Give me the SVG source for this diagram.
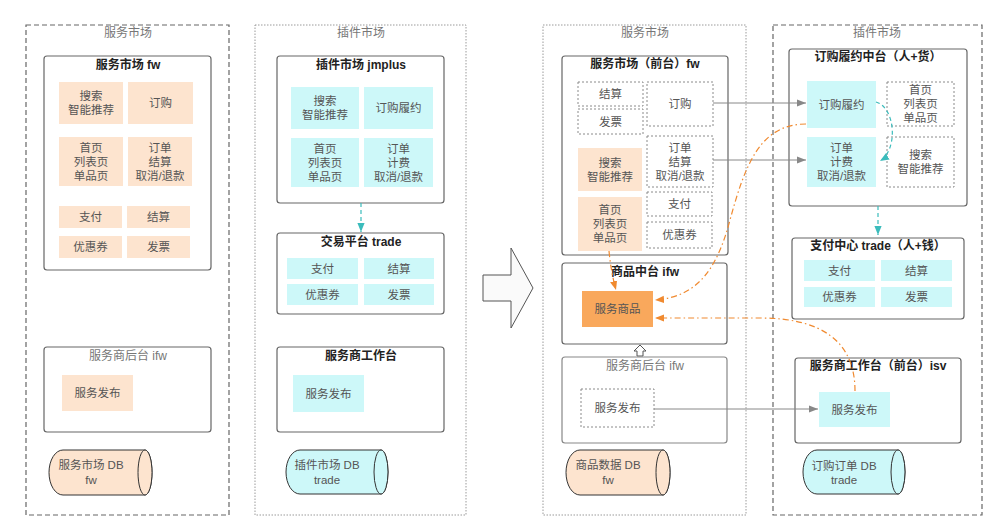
<svg xmlns="http://www.w3.org/2000/svg" width="1000" height="532" viewBox="0 0 1000 532">
<defs>
<style>
text{font-family:'Liberation Sans','Noto Sans CJK SC',sans-serif;text-anchor:middle;dominant-baseline:central}
.od{fill:none;stroke:#666;stroke-width:1.2;stroke-dasharray:5 3}
.op{fill:none;stroke:#9a9a9a;stroke-width:1;stroke-dasharray:1.5 1.5}
.box{fill:#fff;stroke:#666;stroke-width:1.2}
.peach{fill:#fde4cf}
.cyan{fill:#cdf8f9}
.dot{fill:#fff;stroke:#8a8a8a;stroke-width:1;stroke-dasharray:2 2}
.orange{fill:#f9a85c}
.t{font-size:11.5px;fill:#555}
.h{font-size:12px;font-weight:bold;fill:#222}
.g{font-size:12px;fill:#777}
.cylp{fill:#fde4cf;stroke:#333;stroke-width:1}
.cylc{fill:#cdf8f9;stroke:#333;stroke-width:1}
.gl{fill:none;stroke:#888;stroke-width:1}
.ol{fill:none;stroke:#f08a30;stroke-width:1.2;stroke-dasharray:6 3 1.5 3}
.tl{fill:none;stroke:#3bbcbc;stroke-width:1.2;stroke-dasharray:4 3}
</style>
<marker id="ag" viewBox="0 0 10 10" refX="10" refY="5" markerWidth="9" markerHeight="9" markerUnits="userSpaceOnUse" orient="auto"><path d="M0,1 L10,5 L0,9 Z" fill="#888"/></marker>
<marker id="ao" viewBox="0 0 10 10" refX="10" refY="5" markerWidth="9" markerHeight="9" markerUnits="userSpaceOnUse" orient="auto"><path d="M0,1 L10,5 L0,9 Z" fill="#f08a30"/></marker>
<marker id="at" viewBox="0 0 10 10" refX="10" refY="5" markerWidth="9" markerHeight="9" markerUnits="userSpaceOnUse" orient="auto"><path d="M0,1 L10,5 L0,9 Z" fill="#3bbcbc"/></marker>
</defs>
<rect width="1000" height="532" fill="#fff"/>

<g id="col1">
<rect class="od" x="26" y="25" width="203" height="490"/>
<text class="g" x="128" y="33">服务市场</text>
<g id="fw1">
<rect class="box" x="44" y="56" width="167" height="214" rx="3"/>
<text class="h" x="128" y="65">服务市场 fw</text>
<rect class="peach" x="59" y="82" width="64" height="42"/>
<text class="t" x="91" y="103"><tspan x="91" dy="-7">搜索</tspan><tspan x="91" dy="14">智能推荐</tspan></text>
<rect class="peach" x="128" y="82" width="65" height="42"/>
<text class="t" x="160.5" y="103">订购</text>
<rect class="peach" x="59" y="137" width="64" height="49"/>
<text class="t" x="91" y="161.5"><tspan x="91" dy="-14">首页</tspan><tspan x="91" dy="14">列表页</tspan><tspan x="91" dy="14">单品页</tspan></text>
<rect class="peach" x="128" y="137" width="64" height="49"/>
<text class="t" x="160" y="161.5"><tspan x="160" dy="-14">订单</tspan><tspan x="160" dy="14">结算</tspan><tspan x="160" dy="14">取消/退款</tspan></text>
<rect class="peach" x="59" y="206" width="63" height="22"/>
<text class="t" x="90.5" y="217">支付</text>
<rect class="peach" x="127" y="206" width="63" height="22"/>
<text class="t" x="158.5" y="217">结算</text>
<rect class="peach" x="59" y="236" width="63" height="22"/>
<text class="t" x="90.5" y="247">优惠券</text>
<rect class="peach" x="127" y="236" width="63" height="22"/>
<text class="t" x="158.5" y="247">发票</text>
</g>
<g id="ifw1">
<rect class="box" x="44" y="347" width="167" height="85" rx="3"/>
<text class="g" x="128" y="356">服务商后台 ifw</text>
<rect class="peach" x="62" y="375" width="71" height="36"/>
<text class="t" x="97.5" y="393">服务发布</text>
</g>
<g id="db1">
<path class="cylp" d="M63,450 L145,450 A7,22.5 0 0 1 145,495 L63,495 A14,22.5 0 0 1 63,450 Z"/>
<ellipse class="cylp" cx="145" cy="472.5" rx="7" ry="22.5"/>
<text class="t" x="91" y="465">服务市场 DB</text>
<text class="t" x="91" y="480">fw</text>
</g>
</g>

<g id="col2">
<rect class="op" x="255" y="25" width="211" height="490"/>
<text class="g" x="361" y="33">插件市场</text>
<g id="jmplus">
<rect class="box" x="277" y="56" width="167" height="147" rx="3"/>
<text class="h" x="361" y="65">插件市场 jmplus</text>
<rect class="cyan" x="291" y="87" width="68" height="42"/>
<text class="t" x="325" y="108"><tspan x="325" dy="-7">搜索</tspan><tspan x="325" dy="14">智能推荐</tspan></text>
<rect class="cyan" x="364" y="87" width="69" height="42"/>
<text class="t" x="398.5" y="108">订购履约</text>
<rect class="cyan" x="291" y="138" width="68" height="49"/>
<text class="t" x="325" y="162.5"><tspan x="325" dy="-14">首页</tspan><tspan x="325" dy="14">列表页</tspan><tspan x="325" dy="14">单品页</tspan></text>
<rect class="cyan" x="364" y="138" width="69" height="49"/>
<text class="t" x="398.5" y="162.5"><tspan x="398.5" dy="-14">订单</tspan><tspan x="398.5" dy="14">计费</tspan><tspan x="398.5" dy="14">取消/退款</tspan></text>
</g>
<g id="trade2">
<rect class="box" x="277" y="233" width="167" height="81" rx="3"/>
<text class="h" x="361" y="242">交易平台 trade</text>
<rect class="cyan" x="287" y="258" width="71" height="21"/>
<text class="t" x="322.5" y="268.5">支付</text>
<rect class="cyan" x="364" y="258" width="70" height="21"/>
<text class="t" x="399" y="268.5">结算</text>
<rect class="cyan" x="287" y="284" width="71" height="21"/>
<text class="t" x="322.5" y="294.5">优惠券</text>
<rect class="cyan" x="364" y="284" width="70" height="21"/>
<text class="t" x="399" y="294.5">发票</text>
</g>
<g id="isv2">
<rect class="box" x="277" y="347" width="167" height="85" rx="3"/>
<text class="h" x="361" y="356">服务商工作台</text>
<rect class="cyan" x="293" y="375" width="71" height="37"/>
<text class="t" x="328.5" y="393.5">服务发布</text>
</g>
<g id="db2">
<path class="cylc" d="M300,450 L381,450 A7,22 0 0 1 381,494 L300,494 A14,22 0 0 1 300,450 Z"/>
<ellipse class="cylc" cx="381" cy="472" rx="7" ry="22"/>
<text class="t" x="327" y="465">插件市场 DB</text>
<text class="t" x="327" y="480">trade</text>
</g>
</g>

<g id="bigarrow">
<polygon points="483,275 511,275 511,248 533,288 511,328 511,301 483,301" fill="#fafafa" stroke="#555" stroke-width="1"/>
</g>

<g id="col3">
<rect class="op" x="543" y="25" width="203" height="490"/>
<text class="g" x="645" y="33">服务市场</text>
<g id="fw3">
<rect class="box" x="562" y="56" width="166" height="199" rx="3"/>
<text class="h" x="645" y="64">服务市场（前台）fw</text>
<rect class="dot" x="578" y="82" width="65" height="24"/>
<text class="t" x="610.5" y="94">结算</text>
<rect class="dot" x="578" y="109" width="65" height="25"/>
<text class="t" x="610.5" y="121.5">发票</text>
<rect class="dot" x="647" y="82" width="66" height="44"/>
<text class="t" x="680" y="104">订购</text>
<rect class="peach" x="578" y="148" width="64" height="43"/>
<text class="t" x="610" y="169.5"><tspan x="610" dy="-7">搜索</tspan><tspan x="610" dy="14">智能推荐</tspan></text>
<rect class="dot" x="647" y="136" width="66" height="51"/>
<text class="t" x="680" y="161.5"><tspan x="680" dy="-14">订单</tspan><tspan x="680" dy="14">结算</tspan><tspan x="680" dy="14">取消/退款</tspan></text>
<rect class="peach" x="578" y="197" width="64" height="54"/>
<text class="t" x="610" y="224"><tspan x="610" dy="-14">首页</tspan><tspan x="610" dy="14">列表页</tspan><tspan x="610" dy="14">单品页</tspan></text>
<rect class="dot" x="647" y="192" width="65" height="24"/>
<text class="t" x="679.5" y="204">支付</text>
<rect class="dot" x="647" y="222" width="65" height="26"/>
<text class="t" x="679.5" y="235">优惠券</text>
</g>
<g id="goods3">
<rect class="box" x="562" y="263" width="165" height="81" rx="3"/>
<text class="h" x="645" y="272">商品中台 ifw</text>
<rect class="orange" x="582" y="291" width="71" height="36"/>
<text class="t" x="617.5" y="309">服务商品</text>
</g>
<g id="uparrow">
<polygon points="640,345 646,351 643,351 643,356 637,356 637,351 634,351" fill="#fff" stroke="#555" stroke-width="1"/>
</g>
<g id="ifw3">
<rect class="box" x="562" y="357" width="165" height="86" rx="3" style="stroke:#888"/>
<text class="g" x="645" y="366">服务商后台 ifw</text>
<rect class="dot" x="581" y="389" width="73" height="38"/>
<text class="t" x="617.5" y="408">服务发布</text>
</g>
<g id="db3">
<path class="cylp" d="M580,450 L663,450 A7,22.5 0 0 1 663,495 L580,495 A14,22.5 0 0 1 580,450 Z"/>
<ellipse class="cylp" cx="663" cy="472.5" rx="7" ry="22.5"/>
<text class="t" x="608" y="465">商品数据 DB</text>
<text class="t" x="608" y="480">fw</text>
</g>
</g>

<g id="col4">
<rect class="od" x="773" y="25" width="209" height="490"/>
<text class="g" x="877" y="33">插件市场</text>
<g id="order4">
<rect class="box" x="789" y="49" width="178" height="157" rx="3"/>
<text class="h" x="878" y="57">订购履约中台（人+货）</text>
<rect class="cyan" x="807" y="81" width="69" height="47"/>
<text class="t" x="841.5" y="104.5">订购履约</text>
<rect class="dot" x="887" y="82" width="67" height="44"/>
<text class="t" x="920.5" y="104"><tspan x="920.5" dy="-14">首页</tspan><tspan x="920.5" dy="14">列表页</tspan><tspan x="920.5" dy="14">单品页</tspan></text>
<rect class="cyan" x="807" y="137" width="69" height="50"/>
<text class="t" x="841.5" y="162"><tspan x="841.5" dy="-14">订单</tspan><tspan x="841.5" dy="14">计费</tspan><tspan x="841.5" dy="14">取消/退款</tspan></text>
<rect class="dot" x="887" y="137" width="67" height="50"/>
<text class="t" x="920.5" y="162"><tspan x="920.5" dy="-7">搜索</tspan><tspan x="920.5" dy="14">智能推荐</tspan></text>
</g>
<g id="pay4">
<rect class="box" x="792" y="238" width="172" height="81" rx="3"/>
<text class="h" x="878" y="246">支付中心 trade（人+钱）</text>
<rect class="cyan" x="804" y="260" width="71" height="21"/>
<text class="t" x="839.5" y="270.5">支付</text>
<rect class="cyan" x="881" y="260" width="71" height="21"/>
<text class="t" x="916.5" y="270.5">结算</text>
<rect class="cyan" x="804" y="287" width="71" height="20"/>
<text class="t" x="839.5" y="297">优惠券</text>
<rect class="cyan" x="881" y="287" width="71" height="20"/>
<text class="t" x="916.5" y="297">发票</text>
</g>
<g id="isv4">
<rect class="box" x="795" y="358" width="166" height="85" rx="3"/>
<text class="h" x="878" y="366">服务商工作台（前台）isv</text>
<rect class="cyan" x="819" y="392" width="71" height="35"/>
<text class="t" x="854.5" y="409.5">服务发布</text>
</g>
<g id="db4">
<path class="cylc" d="M817,450 L898,450 A7,22 0 0 1 898,494 L817,494 A14,22 0 0 1 817,450 Z"/>
<ellipse class="cylc" cx="898" cy="472" rx="7" ry="22"/>
<text class="t" x="844" y="466">订购订单 DB</text>
<text class="t" x="844" y="480">trade</text>
</g>
</g>

<g id="connectors">
<path class="tl" d="M361,203 L361,232" marker-end="url(#at)"/>
<path class="tl" d="M878,206 L878,235" marker-end="url(#at)"/>
<path class="tl" d="M876,102 C896,108 898,150 880,161" marker-end="url(#at)"/>
<path class="gl" d="M713,103 L806,103" marker-end="url(#ag)"/>
<path class="gl" d="M713,160 L806,160" marker-end="url(#ag)"/>
<path class="gl" d="M654,409 L818,409" marker-end="url(#ag)"/>
<path class="ol" d="M609,251 Q611,272 616,290" marker-end="url(#ao)"/>
<path class="ol" d="M806,124 C760,124 745,165 730,220 C718,265 700,297 655,300" marker-end="url(#ao)"/>
<path class="ol" d="M855,391 C855,340 820,318 760,318 L655,318" marker-end="url(#ao)"/>
</g>
</svg>
